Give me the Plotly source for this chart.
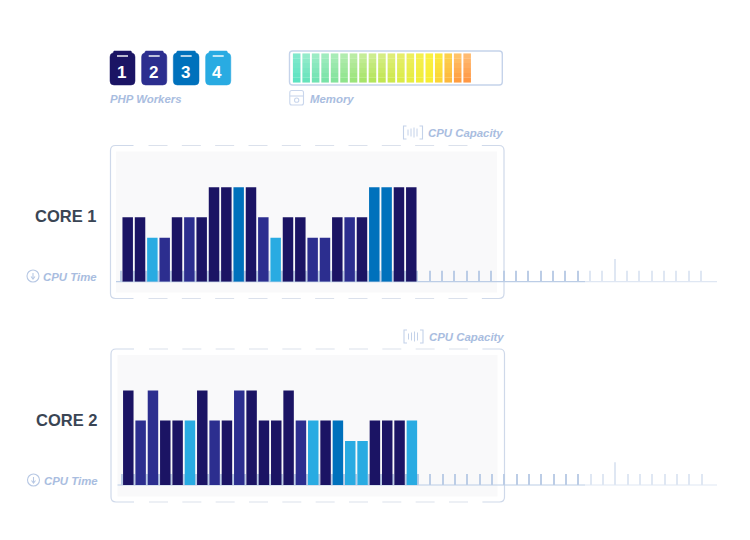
import plotly.graph_objects as go

W, H = 750, 540

# CPU load per slot and the PHP worker (1-4) that ran in that slot
core1_load = [64.5, 64.5, 44, 44, 64.5, 64.5, 64.5, 94.4, 94.4, 94.4, 94.4, 64.5,
              44, 64.5, 64.5, 44, 44, 64.5, 64.5, 64.5, 94.4, 94.4, 94.4, 94.4]
core1_worker = [1, 1, 4, 2, 1, 2, 1, 1, 1, 3, 1, 2,
                4, 1, 1, 2, 2, 1, 2, 1, 3, 3, 1, 1]
core2_load = [94.4, 64.5, 94.4, 64.5, 64.5, 64.5, 94.4, 64.5, 64.5, 94.4, 94.4, 64.5,
              64.5, 94.4, 64.5, 64.5, 64.5, 64.5, 44, 44, 64.5, 64.5, 64.5, 64.5]
core2_worker = [1, 2, 2, 1, 1, 4, 1, 2, 1, 2, 1, 1,
                1, 1, 2, 4, 1, 3, 4, 4, 1, 1, 1, 4]
slots = list(range(24))

tick_slots = [k - 0.5 for k in range(48)]
tick_heights = [11] * 40 + [22.7] + [11] * 7

memory_slots = list(range(19))
memory_bands = [1, 1, 1, 1, 1, 1]
memory_top = ["#6fe6c6", "#86e9c4", "#8ee9bd", "#93e9b6", "#9ce9ad", "#a6e9a3", "#b1e997",
              "#bdea89", "#c6ea7e", "#cfea72", "#d9eb63", "#e2ec55", "#ebed46", "#f3ee35",
              "#f9ef28", "#fbe523", "#fdc934", "#ffbb55", "#ffb25f"]
memory_bottom = ["#45dfb8", "#52dfb2", "#5ddfa8", "#67df9c", "#72df8e", "#7fe07c", "#8de069",
                 "#9be055", "#a9e145", "#b8e33a", "#c6e534", "#d5e82d", "#e2ea26", "#eeeb1e",
                 "#f6eb17", "#facf1a", "#fdae22", "#ff8f24", "#ff8a2a"]

worker_colors = {1: "#1b1464", 2: "#2c2e8f", 3: "#0071bc", 4: "#29abe2"}
LABEL = "#a9bde0"
FRAME = "#cfd9ea"
DASH = "#dbe1ec"
TICK_DARK = "#bccde6"
TICK_LIGHT = "#dfe7f3"
FONT = "Liberation Sans"


def mix(a, b, t):
    ca = [int(a[i:i + 2], 16) for i in (1, 3, 5)]
    cb = [int(b[i:i + 2], 16) for i in (1, 3, 5)]
    return "rgb(%d,%d,%d)" % tuple(round(x + (y - x) * t) for x, y in zip(ca, cb))


def ydomain(top, bottom):
    return [1 - bottom / H, 1 - top / H]


fig = go.Figure()


def add_core(load, worker, xa, ya):
    colors = [TICK_DARK if k < 38 else TICK_LIGHT for k in range(len(tick_slots))]
    fig.add_trace(go.Bar(x=tick_slots, y=tick_heights, width=0.09, marker_color=colors,
                         marker_line_width=0, xaxis=xa, yaxis=ya, showlegend=False))
    fig.add_trace(go.Bar(x=slots, y=load, width=0.85, marker_line_width=0,
                         marker_color=[worker_colors[w] for w in worker],
                         xaxis=xa, yaxis=ya, showlegend=False))


add_core(core1_load, core1_worker, "x2", "y2")
add_core(core2_load, core2_worker, "x3", "y3")

# memory gauge, one stacked bar per slot, bands fake the vertical gradient
running = [0] * len(memory_slots)
for b in range(len(memory_bands)):
    t = b / (len(memory_bands) - 1)
    fig.add_trace(go.Bar(x=memory_slots, y=[memory_bands[b]] * len(memory_slots), base=running,
                         width=0.8, marker_line_width=0, marker_opacity=0.88,
                         showlegend=False, xaxis="x4", yaxis="y4",
                         marker_color=[mix(memory_bottom[i], memory_top[i], t) for i in memory_slots]))
    running = [r + memory_bands[b] for r in running]

shapes = []


def add_path(path, color, width=1.2, fill=None, layer="above"):
    shapes.append(dict(type="path", path=path, xref="x", yref="y", layer=layer,
                       line=dict(color=color, width=width), fillcolor=fill))


def add_line(x0, y0, x1, y1, color, width=1.2, dash=None, layer="above"):
    shapes.append(dict(type="line", x0=x0, y0=y0, x1=x1, y1=y1, xref="x", yref="y", layer=layer,
                       line=dict(color=color, width=width, dash=dash)))


def add_rect(x0, y0, x1, y1, color, layer="below"):
    shapes.append(dict(type="rect", x0=x0, y0=y0, x1=x1, y1=y1, xref="x", yref="y", layer=layer,
                       fillcolor=color, line_width=0))


def round_rect(x0, y0, x1, y1, r):
    return (f"M {x0 + r},{y0} L {x1 - r},{y0} Q {x1},{y0} {x1},{y0 + r} L {x1},{y1 - r} "
            f"Q {x1},{y1} {x1 - r},{y1} L {x0 + r},{y1} Q {x0},{y1} {x0},{y1 - r} "
            f"L {x0},{y0 + r} Q {x0},{y0} {x0 + r},{y0} Z")


def add_frame(left, right, top, bottom, panel, base):
    add_rect(panel[0], panel[1], panel[2], panel[3], "#f9f9fa")
    r = 5
    add_path(f"M {left + 23},{top} L {left + r},{top} Q {left},{top} {left},{top + r} "
             f"L {left},{bottom - r} Q {left},{bottom} {left + r},{bottom} L {left + 23},{bottom}",
             FRAME, layer="below")
    add_path(f"M {right - 22},{top} L {right - r},{top} Q {right},{top} {right},{top + r} "
             f"L {right},{bottom - r} Q {right},{bottom} {right - r},{bottom} L {right - 22},{bottom}",
             FRAME, layer="below")
    for y in (top, bottom):
        add_line(left + 38, y, right - 22, y, DASH, dash="19px,14.33px", layer="below")
    add_line(panel[0], base, 585, base, TICK_DARK, layer="below")
    add_line(585, base, 717, base, TICK_LIGHT, layer="below")


add_frame(110.5, 504, 145.5, 298.5, (116, 151.5, 497, 292.5), 281.7)
add_frame(111, 504.5, 349, 502, (117.5, 355, 497.5, 496.5), 485)

annotations = []


def add_text(x, y, text, color=LABEL, size=11.4, anchor="left", bold=True, italic=True):
    annotations.append(dict(x=x, y=y, text=text, xref="x", yref="y", showarrow=False,
                            xanchor=anchor, yanchor="middle",
                            font=dict(family=FONT, size=size, color=color,
                                      weight="bold" if bold else "normal",
                                      style="italic" if italic else "normal")))


# worker clipboards
for n, x0, x1 in [(1, 110, 135), (2, 141.6, 166.8), (3, 173.3, 199), (4, 205.6, 230.8)]:
    c = worker_colors[n]
    mid = (x0 + x1) / 2
    add_path(f"M {x0 + 4},51 L {x1 - 4},51 L {x1 - 3},53 Q {x1},53.5 {x1},57 L {x1},81 "
             f"Q {x1},85 {x1 - 4},85 L {x0 + 4},85 Q {x0},85 {x0},81 L {x0},57 "
             f"Q {x0},53.5 {x0 + 3},53 Z", c, width=0.5, fill=c)
    add_line(mid - 5.5, 56, mid + 5.5, 56, "#ffffff", width=1.4)
    add_text(mid - 1, 72.5, str(n), color="#ffffff", size=17, anchor="center", italic=False)

add_text(108, 98.5, "PHP Workers")

# memory box
add_path(round_rect(289.5, 51, 502.3, 85, 3), "#c5d3ea", width=1.4)
add_text(307.5, 98.5, "Memory")
add_path(round_rect(289.8, 90.5, 303.5, 105, 2), "#c9d6ec", width=1.1)
add_line(289.8, 96, 303.5, 96, "#c9d6ec", width=1.1)
shapes.append(dict(type="circle", x0=294.5, y0=98, x1=298.8, y1=102.3, xref="x", yref="y",
                   line=dict(color="#c9d6ec", width=1.1)))


def add_capacity_icon(x, y):
    add_path(f"M {x + 3},{y - 6.5} L {x},{y - 6.5} L {x},{y + 6.5} L {x + 3},{y + 6.5}", "#c4d2e9", width=1.1)
    add_path(f"M {x + 16},{y - 6.5} L {x + 19},{y - 6.5} L {x + 19},{y + 6.5} L {x + 16},{y + 6.5}", "#c4d2e9", width=1.1)
    for dx, h in [(4.5, 3), (7.5, 4), (10.5, 5), (13.5, 4)]:
        add_line(x + dx, y - h, x + dx, y + h, "#c4d2e9", width=1)


def add_clock_icon(x, y):
    shapes.append(dict(type="circle", x0=x - 6, y0=y - 6, x1=x + 6, y1=y + 6, xref="x", yref="y",
                       line=dict(color="#b7c8e4", width=1.1)))
    add_line(x, y - 3, x, y + 2.5, "#b7c8e4", width=1.1)
    add_path(f"M {x - 2},{y + 0.5} L {x},{y + 3} L {x + 2},{y + 0.5}", "#b7c8e4", width=1.1)


add_capacity_icon(403.5, 132.5)
add_text(426, 132.5, "CPU Capacity")
add_capacity_icon(404, 336.5)
add_text(426.5, 336.5, "CPU Capacity")

add_clock_icon(33, 276)
add_text(41, 276.5, "CPU Time")
add_clock_icon(33.5, 480)
add_text(42, 480.5, "CPU Time")

add_text(65.5, 216, "CORE 1", color="#3a4554", size=16.5, anchor="center", italic=False)
add_text(66.5, 420, "CORE 2", color="#3a4554", size=16.5, anchor="center", italic=False)

hidden = dict(visible=False, showgrid=False, zeroline=False, fixedrange=True)
pitch = 12.33

fig.update_layout(
    width=W, height=H, margin=dict(l=0, r=0, t=0, b=0, pad=0),
    paper_bgcolor="white", plot_bgcolor="rgba(0,0,0,0)",
    barmode="overlay", showlegend=False, hovermode=False,
    shapes=shapes, annotations=annotations,
    # x/y is a pixel grid for frames and icons, it has to come first to sit under the bars
    xaxis=dict(hidden, domain=[0, 1], range=[0, W]),
    yaxis=dict(hidden, domain=[0, 1], range=[H, 0]),
    xaxis2=dict(hidden, domain=[0, 1], anchor="y2", range=[-127.7 / pitch, (W - 127.7) / pitch]),
    yaxis2=dict(hidden, domain=ydomain(100, 281.7), anchor="x2", range=[0, 181.7]),
    xaxis3=dict(hidden, domain=[0, 1], anchor="y3", range=[-128.3 / pitch, (W - 128.3) / pitch]),
    yaxis3=dict(hidden, domain=ydomain(303.3, 485), anchor="x3", range=[0, 181.7]),
    xaxis4=dict(hidden, domain=[0, 1], anchor="y4", range=[-296.7 / 9.47, (W - 296.7) / 9.47]),
    yaxis4=dict(hidden, domain=ydomain(53.3, 82.7), anchor="x4", range=[0, 6]),
)

fig.write_html("out.html", config={"displayModeBar": False},
               post_script="document.body.style.margin='0';")
